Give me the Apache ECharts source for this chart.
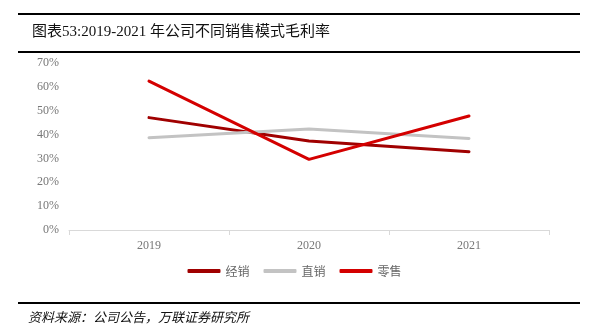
<!DOCTYPE html>
<html><head><meta charset="utf-8">
<script src="https://cdn.jsdelivr.net/npm/echarts@6/dist/echarts.min.js"></script>
<style>html,body{margin:0;padding:0;background:#fff}#c{width:589px;height:335px}</style>
</head><body><div id="c"></div>
<script>
var categories = ['2019', '2020', '2021'];
var jingxiao = [47.1, 37.3, 32.8];
var zhixiao = [38.7, 42.3, 38.4];
var lingshou = [62.4, 29.6, 47.8];
var seriesNames = ['经销', '直销', '零售'];
var yTicks = [0, 10, 20, 30, 40, 50, 60, 70];

var chart = echarts.init(document.getElementById('c'));
var serif = '"Liberation Serif","Times New Roman",serif';
var cjk = '"Noto Sans CJK SC",sans-serif';
function mk(name, data, color) {
  return {name: name, type: 'line', data: data, symbol: 'none', smooth: false,
    lineStyle: {color: color, width: 3, cap: 'round'}, itemStyle: {color: color}};
}
chart.setOption({
  animation: false,
  grid: {left: 69, right: 40, top: 63, bottom: 105},
  title: {text: '图表53:2019-2021 年公司不同销售模式毛利率', left: 27, top: 20,
    textStyle: {fontFamily: '"Liberation Serif","Noto Sans CJK SC",serif', fontSize: 15, fontWeight: 'normal', color: '#111'}},
  graphic: [
    {type: 'rect', shape: {x: 18, y: 13, width: 562, height: 2}, style: {fill: '#000'}},
    {type: 'rect', shape: {x: 18, y: 51, width: 562, height: 2}, style: {fill: '#000'}},
    {type: 'rect', shape: {x: 18, y: 302, width: 562, height: 2}, style: {fill: '#000'}},
    {type: 'text', left: 28, top: 311, style: {text: '资料来源：公司公告，万联证券研究所',
      font: 'italic 13px "Noto Sans CJK SC",sans-serif', fill: '#111'}}
  ],
  legend: {data: seriesNames, bottom: 53, left: 'center', itemWidth: 33, itemHeight: 4, itemGap: 14,
    icon: 'roundRect',
    textStyle: {fontFamily: cjk, fontSize: 12, color: '#666'}},
  xAxis: {type: 'category', data: categories, boundaryGap: true,
    axisLine: {lineStyle: {color: '#d9d9d9'}}, axisTick: {show: true, lineStyle: {color: '#d9d9d9'}},
    axisLabel: {fontFamily: serif, fontSize: 12, color: '#777', margin: 10}},
  yAxis: {type: 'value', min: 0, max: 70, interval: 10,
    axisLine: {show: false}, axisTick: {show: false}, splitLine: {show: false},
    axisLabel: {fontFamily: serif, fontSize: 12, color: '#777', margin: 10,
      formatter: function(v){ return v + '%'; }}},
  series: [mk(seriesNames[0], jingxiao, '#a00000'), mk(seriesNames[1], zhixiao, '#c3c3c3'), mk(seriesNames[2], lingshou, '#d40000')]
});
</script></body></html>
